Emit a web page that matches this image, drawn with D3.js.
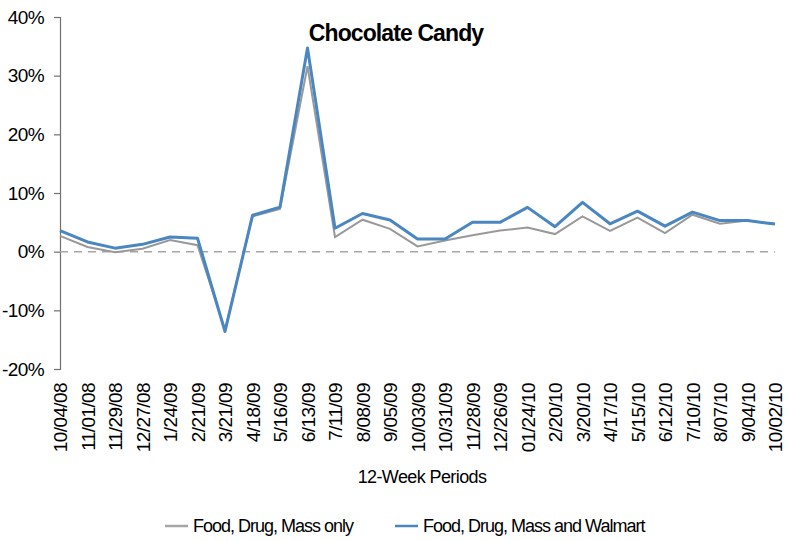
<!DOCTYPE html>
<html lang="en">
<head>
    <script src="https://d3js.org/d3.v7.min.js"></script>
    <style>
        body { margin: 0; background: #fff; }
        text { font-family: "Liberation Sans", Arial, sans-serif; fill: #000; }
        .title { font-size: 23px; font-weight: bold; text-anchor: middle; letter-spacing: -0.9px; }
        .tick-label { font-size: 19px; letter-spacing: -0.6px; }
        .axis-title { font-size: 18px; text-anchor: middle; letter-spacing: -0.6px; }
        .legend-text { font-size: 18px; letter-spacing: -1px; }
    </style>
</head>
<body>
    <div id="chart"></div>
    <script>
        const periods = ["10/04/08", "11/01/08", "11/29/08", "12/27/08", "1/24/09", "2/21/09", "3/21/09",
            "4/18/09", "5/16/09", "6/13/09", "7/11/09", "8/08/09", "9/05/09", "10/03/09", "10/31/09",
            "11/28/09", "12/26/09", "01/24/10", "2/20/10", "3/20/10", "4/17/10", "5/15/10", "6/12/10",
            "7/10/10", "8/07/10", "9/04/10", "10/02/10"];

        // Food, Drug, Mass only
        const fdmOnly = [2.7, 0.8, -0.1, 0.5, 2.0, 1.1, -13.3, 6.0, 7.3, 31.6, 2.5, 5.45, 3.9, 0.9,
            1.9, 2.8, 3.6, 4.1, 3.0, 6.0, 3.55, 5.8, 3.15, 6.3, 4.75, 5.3, 4.7];

        // Food, Drug, Mass and Walmart
        const fdmWalmart = [3.6, 1.65, 0.6, 1.25, 2.5, 2.3, -13.6, 6.2, 7.6, 34.7, 4.0, 6.5, 5.4, 2.15,
            2.15, 5.0, 5.0, 7.55, 4.25, 8.4, 4.75, 6.9, 4.35, 6.75, 5.3, 5.3, 4.7];

        const yTicks = [-20, -10, 0, 10, 20, 30, 40];

        const width = 790;
        const height = 540;

        const svg = d3.select("#chart")
            .append("svg")
            .attr("width", width)
            .attr("height", height);

        const xScale = d3.scalePoint().domain(periods).range([60, 775]);
        const yScale = d3.scaleLinear().domain([-20, 40]).range([369, 17]);

        // y axis
        const yAxis = d3.axisLeft(yScale)
            .tickValues(yTicks)
            .tickSize(6)
            .tickPadding(10)
            .tickFormat(d => d + "%");

        const yAxisG = svg.append("g")
            .attr("transform", "translate(60,0)")
            .call(yAxis);
        yAxisG.select(".domain").attr("stroke", "#707070").attr("stroke-width", 1.2);
        yAxisG.selectAll(".tick line").attr("stroke", "#707070").attr("stroke-width", 1.2);
        yAxisG.selectAll(".tick text")
            .attr("class", "tick-label")
            .attr("fill", "#000")
            .style("font-family", "'Liberation Sans', Arial, sans-serif");

        // zero line
        svg.append("line")
            .attr("x1", xScale(periods[0]))
            .attr("x2", xScale(periods[periods.length - 1]))
            .attr("y1", yScale(0))
            .attr("y2", yScale(0))
            .attr("stroke", "#a6a6a6")
            .attr("stroke-width", 1.5)
            .attr("stroke-dasharray", "8,6");

        // x labels
        const xAxis = d3.axisBottom(xScale).tickSize(0).tickPadding(0);
        const xAxisG = svg.append("g")
            .attr("transform", "translate(0,383)")
            .call(xAxis);
        xAxisG.select(".domain").remove();
        xAxisG.selectAll(".tick text")
            .attr("class", "tick-label")
            .attr("fill", "#000")
            .style("font-family", "'Liberation Sans', Arial, sans-serif")
            .attr("text-anchor", "end")
            .attr("transform", "rotate(-90)")
            .attr("x", 0)
            .attr("y", 0)
            .attr("dx", 0)
            .attr("dy", "0.35em");

        const line = d3.line()
            .x((d, i) => xScale(periods[i]))
            .y(d => yScale(d));

        svg.append("path")
            .datum(fdmOnly)
            .attr("fill", "none")
            .attr("stroke", "#999999")
            .attr("stroke-width", 2)
            .attr("d", line);

        svg.append("path")
            .datum(fdmWalmart)
            .attr("fill", "none")
            .attr("stroke", "#4a86c0")
            .attr("stroke-width", 3)
            .attr("stroke-linejoin", "round")
            .attr("d", line);

        // title
        svg.append("text")
            .attr("class", "title")
            .attr("x", 396)
            .attr("y", 41)
            .text("Chocolate Candy");

        // axis title
        svg.append("text")
            .attr("class", "axis-title")
            .attr("x", 422)
            .attr("y", 483)
            .text("12-Week Periods");

        // legend
        const legendItems = [
            { label: "Food, Drug, Mass only", color: "#a6a6a6", x: 165 },
            { label: "Food, Drug, Mass and Walmart", color: "#4a86c0", x: 395 }
        ];
        const legend = svg.append("g");
        legendItems.forEach(item => {
            legend.append("line")
                .attr("x1", item.x)
                .attr("x2", item.x + 23)
                .attr("y1", 526)
                .attr("y2", 526)
                .attr("stroke", item.color)
                .attr("stroke-width", 2.5);
            legend.append("text")
                .attr("class", "legend-text")
                .attr("x", item.x + 28)
                .attr("y", 532)
                .text(item.label);
        });
    </script>
</body>
</html>
